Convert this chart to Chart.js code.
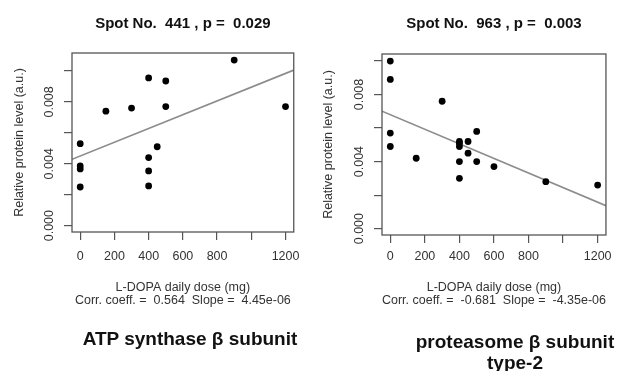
<!DOCTYPE html>
<html>
<head>
<meta charset="utf-8">
<script src="https://cdn.jsdelivr.net/npm/chart.js@4/dist/chart.umd.min.js"></script>
<style>
  body { margin: 0; background: #fff; }
  #wrap { position: relative; width: 618px; height: 371px; overflow: hidden; }
  canvas { position: absolute; top: 0; }
  .protein { position: absolute; font: bold 19px "Liberation Sans", Arial, sans-serif; color: #111; text-align: center; line-height: 21px; white-space: nowrap; }
</style>
</head>
<body>
<div id="wrap">
  <canvas id="chart441" width="309" height="371" style="left:0"></canvas>
  <canvas id="chart963" width="309" height="371" style="left:309px"></canvas>
  <div class="protein" id="name441" style="left:40px; width:300px; top:328px;">ATP synthase β subunit</div>
  <div class="protein" id="name963" style="left:365px; width:300px; top:331px;">proteasome β subunit<br>type-2</div>
</div>
<script>
// tick positions used by both panels
const doseTicks = [0, 200, 400, 600, 800, 1000, 1200];
const doseLabels = [0, 200, 400, 600, 800, 1200];
const levelTicks = [0, 0.002, 0.004, 0.006, 0.008, 0.010];
const levelLabels = [0, 0.004, 0.008];

// Spot No. 441 - ATP synthase beta subunit
const dose441 = [0, 0, 0, 0, 150, 300, 400, 400, 400, 400, 450, 500, 500, 900, 1200];
const level441 = [0.0053, 0.00386, 0.00367, 0.0025, 0.0074, 0.0076, 0.00955, 0.0044, 0.00354, 0.00257, 0.0051, 0.00935, 0.0077, 0.0107, 0.0077];
const fit441 = [0.0045, 4.45e-06]; // intercept, slope

// Spot No. 963 - proteasome beta subunit type-2
const dose963 = [0, 0, 0, 0, 150, 300, 400, 400, 400, 400, 400, 450, 450, 500, 500, 600, 900, 1200];
const level963 = [0.0100, 0.0089, 0.0057, 0.0049, 0.0042, 0.0076, 0.0052, 0.0051, 0.0049, 0.0040, 0.0030, 0.0052, 0.0045, 0.0058, 0.0040, 0.0037, 0.0028, 0.0026];
const fit963 = [0.0068, -4.35e-06];

Chart.defaults.font.family = '"Liberation Sans", Arial, sans-serif';
Chart.defaults.font.size = 12.5;
Chart.defaults.color = '#333';

const XMIN = -48, XMAX = 1248;

// R-style frame around the plotting region
const boxPlugin = {
  id: 'box',
  afterDraw(chart) {
    const a = chart.chartArea;
    const ctx = chart.ctx;
    ctx.save();
    ctx.strokeStyle = '#555';
    ctx.lineWidth = 1.3;
    ctx.strokeRect(a.left, a.top, a.right - a.left, a.bottom - a.top);
    ctx.restore();
  }
};

function makePanel(id, title, xs, ys, fit, corr, opt) {
  const pts = xs.map((x, i) => ({x: x, y: ys[i]}));
  const line = [XMIN, XMAX].map(x => ({x: x, y: fit[0] + fit[1] * x}));
  return new Chart(document.getElementById(id), {
    type: 'scatter',
    data: {
      datasets: [{
        data: pts,
        backgroundColor: '#000',
        borderWidth: 0,
        pointRadius: 3.4,
        order: 1
      }, {
        type: 'line',
        data: line,
        borderColor: '#8c8c8c',
        borderWidth: 1.6,
        pointRadius: 0,
        fill: false,
        order: 2
      }]
    },
    plugins: [boxPlugin],
    options: {
      responsive: false,
      animation: false,
      events: [],
      layout: { padding: { left: 0, right: opt.padRight, top: 0, bottom: opt.padBottom } },
      plugins: {
        legend: { display: false },
        tooltip: { enabled: false },
        title: {
          display: true,
          text: title,
          fullSize: false,
          color: '#111',
          font: { size: 15, weight: 'bold' },
          padding: { top: 15, bottom: opt.titleGap }
        }
      },
      scales: {
        x: {
          type: 'linear',
          min: XMIN,
          max: XMAX,
          afterBuildTicks: s => { s.ticks = doseTicks.map(v => ({value: v})); },
          afterFit: s => { s.height = opt.xHeight; },
          ticks: {
            autoSkip: false,
            maxRotation: 0,
            padding: opt.xTickPad,
            callback: v => doseLabels.includes(v) ? String(v) : ''
          },
          grid: { drawOnChartArea: false, tickLength: 8, color: '#555', lineWidth: 1.2 },
          border: { display: false },
          title: {
            display: true,
            text: ['L-DOPA daily dose (mg)', corr],
            padding: { top: 0, bottom: 0 },
            font: { size: 12.5, lineHeight: 1.05 }
          }
        },
        y: {
          type: 'linear',
          min: opt.yMin,
          max: opt.yMax,
          afterBuildTicks: s => { s.ticks = levelTicks.map(v => ({value: v})); },
          afterFit: s => { s.width = opt.yWidth; },
          ticks: {
            minRotation: 90,
            maxRotation: 90,
            crossAlign: 'center',
            padding: -1,
            callback: v => levelLabels.some(l => Math.abs(l - v) < 1e-9) ? v.toFixed(3) : ''
          },
          grid: { drawOnChartArea: false, tickLength: 8, color: '#555', lineWidth: 1.2 },
          border: { display: false },
          title: {
            display: true,
            text: 'Relative protein level (a.u.)',
            padding: { top: opt.yTitlePad, bottom: 0 },
            font: { size: 12.5 }
          }
        }
      }
    }
  });
}

makePanel('chart441', 'Spot No.  441 , p =  0.029', dose441, level441, fit441,
  'Corr. coeff. =  0.564  Slope =  4.45e-06',
  { padRight: 14, padBottom: 64, titleGap: 20, xHeight: 75, xTickPad: 9, yWidth: 72, yTitlePad: 12, yMin: -0.00041, yMax: 0.01116 });

makePanel('chart963', 'Spot No.  963 , p =  0.003', dose963, level963, fit963,
  'Corr. coeff. =  -0.681  Slope =  -4.35e-06',
  { padRight: 9, padBottom: 64, titleGap: 21, xHeight: 72, xTickPad: 6, yWidth: 73, yTitlePad: 12, yMin: -0.00038, yMax: 0.01042 });
</script>
</body>
</html>
